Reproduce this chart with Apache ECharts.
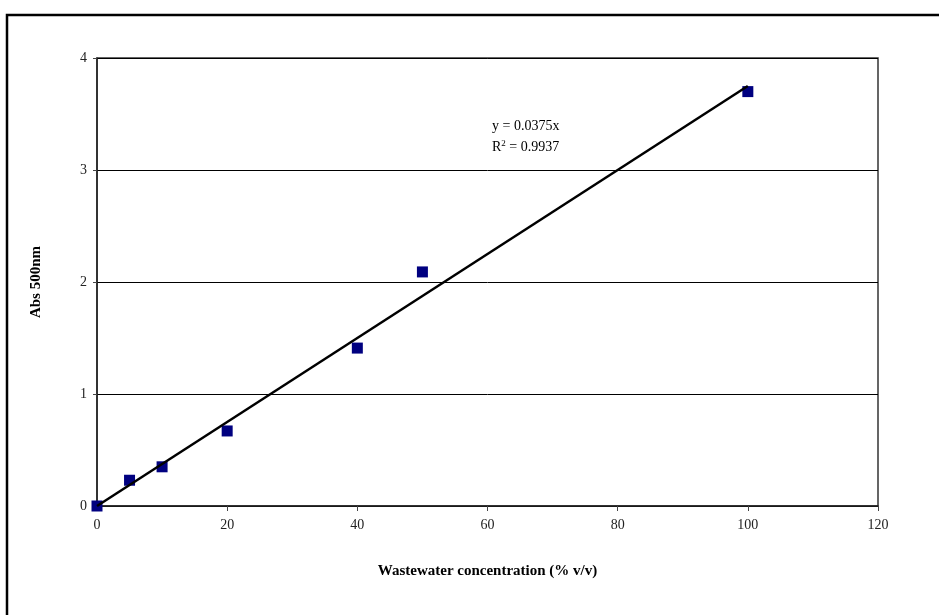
<!DOCTYPE html>
<html>
<head>
<meta charset="utf-8">
<script src="https://cdn.jsdelivr.net/npm/echarts@6/dist/echarts.min.js"></script>
<style>
  html, body { margin: 0; padding: 0; background: #fff; }
  #chart { width: 939px; height: 615px; }
</style>
</head>
<body>
<div id="chart"></div>
<script>
// Wastewater dilution series and measured absorbance at 500 nm
const concentration = [0, 5, 10, 20, 40, 50, 100];
const absorbance = [0, 0.23, 0.35, 0.67, 1.41, 2.09, 3.70];
const slope = 0.0375;       // linear fit through origin
const rSquared = 0.9937;
const fitRange = [0, 100];

const points = concentration.map((c, i) => [c, absorbance[i]]);
const fitLine = fitRange.map(x => [x, +(slope * x).toFixed(4)]);

const serif = '"Liberation Serif", "DejaVu Serif", serif';

const chart = echarts.init(document.getElementById('chart'), null, { renderer: 'canvas' });
chart.setOption({
  animation: false,
  backgroundColor: '#fff',
  grid: { left: 97, top: 58, right: 61, bottom: 109, show: true, borderColor: '#333', borderWidth: 1.5 },
  xAxis: {
    type: 'value', min: 0, max: 120, interval: 20,
    name: 'Wastewater concentration (% v/v)',
    nameLocation: 'middle', nameGap: 58,
    nameTextStyle: { fontFamily: serif, fontWeight: 'bold', fontSize: 15, color: '#000' },
    axisLine: { show: true, lineStyle: { color: '#222', width: 1.5 } },
    axisTick: { show: true, length: 5, lineStyle: { color: '#444' } },
    axisLabel: { fontFamily: serif, fontSize: 14, color: '#222', margin: 12 },
    splitLine: { show: false }
  },
  yAxis: {
    type: 'value', min: 0, max: 4, interval: 1,
    name: 'Abs 500nm',
    nameLocation: 'middle', nameGap: 53, nameRotate: 90,
    nameTextStyle: { fontFamily: serif, fontWeight: 'bold', fontSize: 15, color: '#000' },
    axisLine: { show: true, lineStyle: { color: '#222', width: 1.5 } },
    axisTick: { show: true, length: 4, inside: false, lineStyle: { color: '#444' } },
    axisLabel: { fontFamily: serif, fontSize: 14, color: '#222', margin: 10 },
    splitLine: { show: true, lineStyle: { color: '#000', width: 1 } }
  },
  series: [
    {
      type: 'scatter',
      data: points,
      symbol: 'rect',
      symbolSize: 11,
      itemStyle: { color: '#000080', opacity: 1 },
      z: 2
    },
    {
      type: 'line',
      data: fitLine,
      symbol: 'none',
      lineStyle: { color: '#000', width: 2.5 },
      z: 3
    }
  ],
  graphic: [
    {
      type: 'rect',
      shape: { x: 7, y: 15, width: 1000, height: 700 },
      style: { fill: 'none', stroke: '#000', lineWidth: 2.5 },
      silent: true
    },
    {
      type: 'text',
      left: 492, top: 119,
      style: { text: 'y = ' + slope + 'x', font: '14px ' + serif, fill: '#000' }
    },
    {
      type: 'text',
      left: 492, top: 139,
      style: {
        text: '{b|R}{s|2}{b| = ' + rSquared + '}',
        rich: {
          b: { fontFamily: serif, fontSize: 14, fill: '#000', verticalAlign: 'bottom' },
          s: { fontFamily: serif, fontSize: 9, fill: '#000', verticalAlign: 'top', padding: [0, 0, 6, 0] }
        }
      }
    }
  ]
});
</script>
</body>
</html>
